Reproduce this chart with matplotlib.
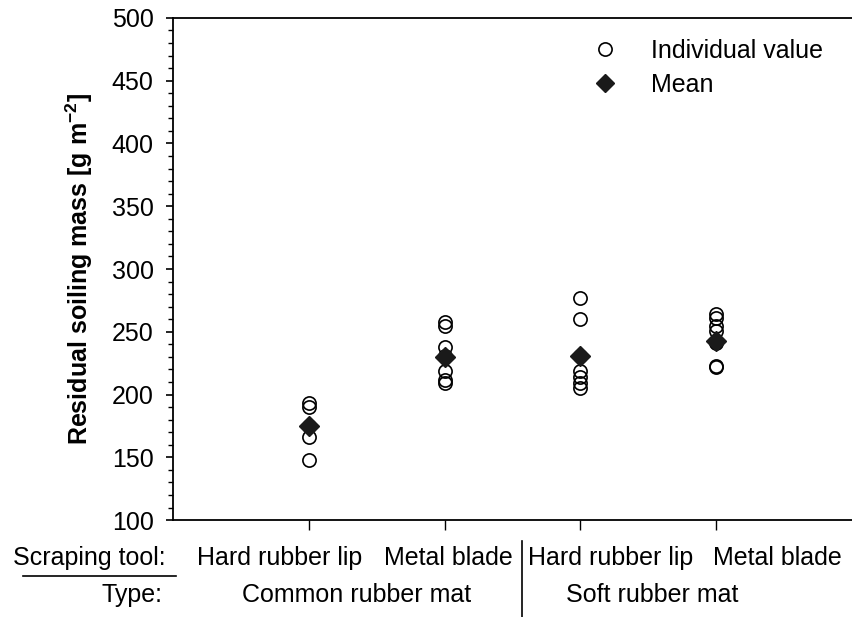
import matplotlib.pyplot as plt
from matplotlib.lines import Line2D
from matplotlib.ticker import MultipleLocator

plt.rcParams["font.family"] = ["Liberation Sans", "DejaVu Sans"]
plt.rcParams["mathtext.fontset"] = "custom"
plt.rcParams["mathtext.rm"] = "Liberation Sans"
plt.rcParams["mathtext.bf"] = "Liberation Sans:bold"

tools = ["Hard rubber lip", "Metal blade", "Hard rubber lip", "Metal blade"]
mat_types = ["Common rubber mat", "Soft rubber mat"]

# individual values per group
values = [
    [193, 190, 175, 166, 148],
    [258, 255, 238, 231, 219, 212, 209],
    [277, 260, 231, 219, 214, 209, 205],
    [264, 261, 255, 251, 241, 223, 222],
]
means = [175, 230, 231, 243]

fig = plt.figure(figsize=(8.52, 6.17), dpi=100)
ax = fig.add_axes([0.203, 0.157, 0.797, 0.814])

for i, vals in enumerate(values):
    ax.plot([i + 1] * len(vals), vals, linestyle="none", marker="o",
            markersize=9.5, markerfacecolor="none", markeredgecolor="black",
            markeredgewidth=1.2)
ax.plot(range(1, len(means) + 1), means, linestyle="none", marker="D",
        markersize=10.5, color="#1a1a1a")

ax.set_xlim(0, 5)
ax.set_ylim(100, 500)
ax.yaxis.set_major_locator(MultipleLocator(50))
ax.yaxis.set_minor_locator(MultipleLocator(10))
ax.set_xticks(range(1, 5))
ax.set_xticklabels([])
ax.tick_params(axis="y", which="major", length=5, width=1.2, labelsize=18,
               pad=9)
ax.tick_params(axis="y", which="minor", length=3.5, width=1.0)
ax.tick_params(axis="x", length=7, width=1.0)
ax.spines["right"].set_visible(False)
for s in ["left", "top", "bottom"]:
    ax.spines[s].set_linewidth(1.3)

ax.set_ylabel("Residual soiling mass [g m$^{\\mathbf{-2}}$]", fontsize=18,
              fontweight="bold", labelpad=12)

handles = [
    Line2D([], [], linestyle="none", marker="o", markersize=9.5,
           markerfacecolor="none", markeredgecolor="black", markeredgewidth=1.2),
    Line2D([], [], linestyle="none", marker="D", markersize=9, color="#1a1a1a"),
]
ax.legend(handles, ["Individual value", "Mean"], loc="upper right",
          bbox_to_anchor=(0.991, 1.003), frameon=False, fontsize=18,
          handletextpad=0.85, labelspacing=0.4)

# category labels below the axis
row1 = 1 - 565 / 617
row2 = 1 - 602 / 617
tool_x = [280, 448, 611, 777]
for x, t in zip(tool_x, tools):
    fig.text(x / 852, row1, t, ha="center", va="baseline", fontsize=18)
fig.text(166 / 852, row1, "Scraping tool:", ha="right", va="baseline",
         fontsize=18)
fig.text(163 / 852, row2, "Type:", ha="right", va="baseline", fontsize=18)
for x, t in zip([357, 652], mat_types):
    fig.text(x / 852, row2, t, ha="center", va="baseline", fontsize=18)

fig.add_artist(Line2D([23 / 852, 176 / 852], [1 - 575.5 / 617] * 2,
                      color="black", linewidth=1.2))
fig.add_artist(Line2D([522 / 852] * 2, [1 - 541 / 617, 0],
                      color="black", linewidth=1.2))

fig.savefig("out.png", dpi=100)
